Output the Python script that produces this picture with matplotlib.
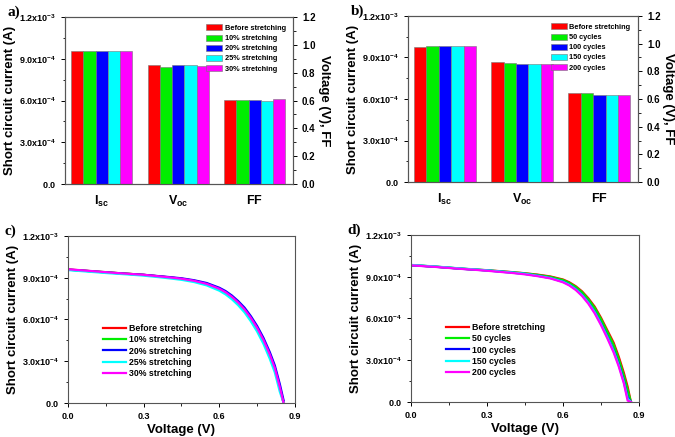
import matplotlib
matplotlib.use("Agg")
import matplotlib.pyplot as plt
from matplotlib.ticker import MultipleLocator, FuncFormatter

plt.rcParams['font.family'] = ['Liberation Sans', 'DejaVu Sans']
plt.rcParams['font.weight'] = 'bold'
plt.rcParams['mathtext.fontset'] = 'custom'
plt.rcParams['mathtext.rm'] = 'Liberation Sans:bold'
plt.rcParams['mathtext.bf'] = 'Liberation Sans:bold'
plt.rcParams['mathtext.it'] = 'Liberation Sans:bold'

# ---- data ----
groups = [r'$\mathbf{I_{sc}}$', r'$\mathbf{V_{oc}}$', r'$\mathbf{FF}$']
colors = ['#ff0000', '#00ee00', '#0000ff', '#00ffff', '#ff00ff']

labels_a = ['Before stretching', '10% stretching', '20% stretching',
            '25% stretching', '30% stretching']
isc_a = [9.56e-4, 9.54e-4, 9.56e-4, 9.59e-4, 9.56e-4]
voc_a = [0.853, 0.839, 0.856, 0.853, 0.851]
ff_a = [0.607, 0.607, 0.607, 0.595, 0.610]

labels_b = ['Before stretching', '50 cycles', '100 cycles',
            '150 cycles', '200 cycles']
isc_b = [9.78e-4, 9.80e-4, 9.82e-4, 9.82e-4, 9.80e-4]
voc_b = [0.865, 0.858, 0.856, 0.856, 0.856]
ff_b = [0.641, 0.640, 0.628, 0.628, 0.626]

# J-V curves, panel c (stretching), current in 1e-4 A
v_c = [0.0, 0.05, 0.10, 0.15, 0.20, 0.25, 0.30, 0.35, 0.40, 0.45, 0.50,
       0.55, 0.60, 0.625, 0.65, 0.675, 0.70, 0.725, 0.75, 0.775, 0.80,
       0.82, 0.84, 0.855]
i_c_before = [9.60, 9.53, 9.46, 9.39, 9.33, 9.27, 9.21, 9.12, 9.03, 8.93,
              8.78, 8.56, 8.20, 7.95, 7.62, 7.21, 6.72, 6.10, 5.38, 4.52,
              3.48, 2.50, 1.12, 0.0]
i_c_10 = [9.58, 9.52, 9.46, 9.40, 9.33, 9.27, 9.20, 9.11, 9.02, 8.92,
          8.77, 8.55, 8.19, 7.94, 7.61, 7.20, 6.71, 6.09, 5.37, 4.50,
          3.46, 2.48, 1.10, 0.0]
i_c_20 = [9.58, 9.52, 9.45, 9.38, 9.32, 9.26, 9.21, 9.13, 9.05, 8.96,
          8.82, 8.62, 8.28, 8.04, 7.72, 7.32, 6.85, 6.24, 5.53, 4.68,
          3.66, 2.70, 1.35, 0.18]
i_c_25 = [9.55, 9.48, 9.41, 9.34, 9.28, 9.22, 9.15, 9.06, 8.96, 8.85,
          8.69, 8.45, 8.07, 7.80, 7.45, 7.02, 6.51, 5.87, 5.13, 4.25,
          3.18, 2.20, 0.80, 0.0]
i_c_30 = [9.61, 9.54, 9.47, 9.40, 9.33, 9.27, 9.21, 9.12, 9.03, 8.93,
          8.78, 8.56, 8.21, 7.96, 7.63, 7.22, 6.73, 6.12, 5.40, 4.54,
          3.50, 2.52, 1.14, 0.0]

# J-V curves, panel d (cycles), current in 1e-4 A
v_d = [0.0, 0.05, 0.10, 0.15, 0.20, 0.25, 0.30, 0.35, 0.40, 0.45, 0.50,
       0.55, 0.60, 0.625, 0.65, 0.675, 0.70, 0.725, 0.75, 0.775, 0.80,
       0.82, 0.84, 0.855, 0.868]
i_d_before = [9.84, 9.78, 9.72, 9.65, 9.58, 9.52, 9.47, 9.40, 9.33, 9.25,
              9.15, 9.02, 8.80, 8.60, 8.32, 7.95, 7.45, 6.85, 6.05, 5.15,
              4.25, 3.25, 2.10, 1.10, 0.0]
i_d_50 = [9.83, 9.78, 9.72, 9.65, 9.58, 9.52, 9.46, 9.39, 9.32, 9.24,
          9.13, 8.99, 8.76, 8.55, 8.27, 7.89, 7.38, 6.76, 5.95, 5.03,
          4.10, 3.08, 1.90, 0.88, 0.0]
i_d_100 = [9.82, 9.77, 9.71, 9.64, 9.57, 9.51, 9.45, 9.37, 9.29, 9.20,
           9.07, 8.91, 8.65, 8.43, 8.12, 7.70, 7.16, 6.49, 5.65, 4.72,
           3.72, 2.73, 1.52, 0.35, 0.0]
i_d_150 = [9.85, 9.79, 9.73, 9.66, 9.59, 9.53, 9.46, 9.38, 9.30, 9.21,
           9.07, 8.91, 8.64, 8.42, 8.10, 7.68, 7.13, 6.45, 5.60, 4.66,
           3.65, 2.65, 1.43, 0.25, 0.0]
i_d_200 = [9.82, 9.76, 9.70, 9.63, 9.56, 9.50, 9.43, 9.35, 9.27, 9.17,
           9.04, 8.88, 8.60, 8.37, 8.05, 7.62, 7.06, 6.37, 5.52, 4.57,
           3.55, 2.55, 1.35, 0.10, 0.0]


def sci_fmt(val, pos):
    if abs(val) < 1e-12:
        return r'$\mathbf{0.0}$'
    exp = 0
    m = val
    while abs(m) < 1:
        m *= 10
        exp -= 1
    return r'$\mathbf{%.1fx10^{%d}}$' % (m, exp)


def style_spines(ax):
    for s in ax.spines.values():
        s.set_linewidth(0.8)
        s.set_color('#555555')


def bar_panel(ax, labels, isc, voc, ff, letter):
    ax2 = ax.twinx()
    width = 0.16
    handles = []
    for k in range(5):
        off = (k - 2) * width
        h = ax.bar(1 + off, isc[k], width, color=colors[k],
                   edgecolor='#777777', linewidth=0.4, label=labels[k])
        ax2.bar([2 + off, 3 + off], [voc[k], ff[k]], width, color=colors[k],
                edgecolor='#777777', linewidth=0.4)
        handles.append(h)
    ax.set_xlim(0.52, 3.5)
    ax.set_ylim(0, 1.2e-3)
    ax2.set_ylim(0, 1.2)
    ax.set_xticks([1, 2, 3])
    ax.set_xticklabels(groups, fontsize=9)
    ax.tick_params(axis='x', length=0, pad=7)
    ax.yaxis.set_major_locator(MultipleLocator(3e-4))
    ax.yaxis.set_minor_locator(MultipleLocator(1.5e-4))
    ax.yaxis.set_major_formatter(FuncFormatter(sci_fmt))
    ax.tick_params(axis='y', which='major', labelsize=6.5, length=3, width=0.7)
    ax.tick_params(axis='y', which='minor', length=1.8, width=0.6)
    ax2.yaxis.set_major_locator(MultipleLocator(0.2))
    ax2.yaxis.set_minor_locator(MultipleLocator(0.1))
    ax2.yaxis.set_major_formatter(FuncFormatter(lambda v, p: '%.1f' % v))
    ax2.tick_params(axis='y', which='major', labelsize=7, length=3, width=0.7)
    ax2.tick_params(axis='y', which='minor', length=1.8, width=0.6)
    ax.set_ylabel('Short circuit current (A)', fontsize=9.5, fontweight='bold',
                  labelpad=2)
    ax2.set_ylabel('Voltage (V), FF', fontsize=9.5, fontweight='bold',
                   rotation=270, labelpad=10)
    style_spines(ax)
    style_spines(ax2)
    ax2.legend(handles=handles, loc='upper right', frameon=False,
               handlelength=2.2, handleheight=0.9, labelspacing=0.35,
               handletextpad=0.3, borderaxespad=0.6,
               prop={'weight': 'bold', 'size': 5.3})
    ax.text(-0.25, 1.03, letter, transform=ax.transAxes, fontsize=11,
            fontweight='bold', family='Liberation Serif', va='center')


def curve_panel(ax, v, curves, labels, letter):
    for k, cur in enumerate(curves):
        ax.plot(v, [c * 1e-4 for c in cur], color=colors[k], lw=1.6,
                label=labels[k])
    ax.set_xlim(0, 0.9)
    ax.set_ylim(0, 1.2e-3)
    ax.xaxis.set_major_locator(MultipleLocator(0.3))
    ax.xaxis.set_minor_locator(MultipleLocator(0.15))
    ax.xaxis.set_major_formatter(FuncFormatter(lambda x, p: '%.1f' % x))
    ax.yaxis.set_major_locator(MultipleLocator(3e-4))
    ax.yaxis.set_minor_locator(MultipleLocator(1.5e-4))
    ax.yaxis.set_major_formatter(FuncFormatter(sci_fmt))
    ax.tick_params(axis='both', which='major', labelsize=6.5, length=3,
                   width=0.7)
    ax.tick_params(axis='both', which='minor', length=1.8, width=0.6)
    ax.set_xlabel('Voltage (V)', fontsize=9.5, fontweight='bold', labelpad=2)
    ax.set_ylabel('Short circuit current (A)', fontsize=9.5, fontweight='bold',
                  labelpad=2)
    style_spines(ax)
    ax.legend(loc='lower left', bbox_to_anchor=(0.12, 0.10), frameon=False,
              handlelength=2.6, labelspacing=0.28, handletextpad=0.4,
              prop={'weight': 'bold', 'size': 6.3})
    ax.text(-0.28, 1.03, letter, transform=ax.transAxes, fontsize=11,
            fontweight='bold', family='Liberation Serif', va='center')


fig = plt.figure(figsize=(6.75, 4.37), dpi=100)
ax_a = fig.add_axes([0.0963, 0.5789, 0.3378, 0.3822])
ax_b = fig.add_axes([0.6044, 0.5835, 0.3407, 0.3799])
ax_c = fig.add_axes([0.1007, 0.0778, 0.3363, 0.3822])
ax_d = fig.add_axes([0.6089, 0.0801, 0.3378, 0.3822])

bar_panel(ax_a, labels_a, isc_a, voc_a, ff_a, 'a)')
bar_panel(ax_b, labels_b, isc_b, voc_b, ff_b, 'b)')
curve_panel(ax_c, v_c, [i_c_before, i_c_10, i_c_20, i_c_25, i_c_30],
            labels_a, 'c)')
curve_panel(ax_d, v_d, [i_d_before, i_d_50, i_d_100, i_d_150, i_d_200],
            labels_b, 'd)')

fig.savefig('out.png', dpi=100)
